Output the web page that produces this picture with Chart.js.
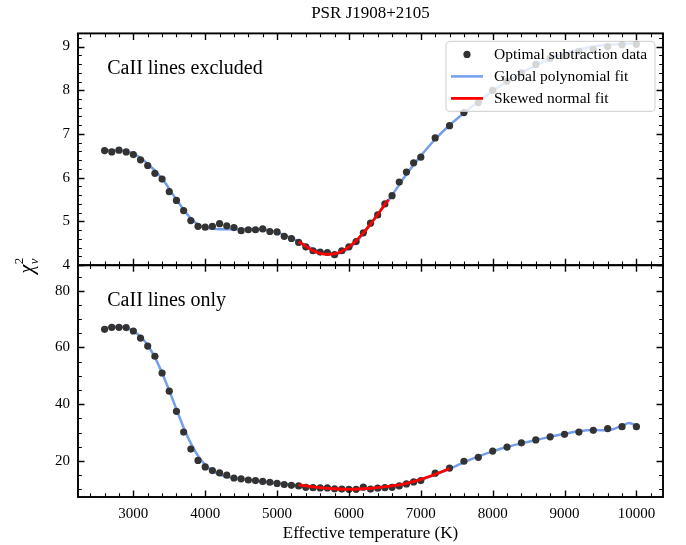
<!DOCTYPE html>
<html>
<head>
<meta charset="utf-8">
<title>PSR J1908+2105</title>
<script src="https://cdn.jsdelivr.net/npm/chart.js@4.4.1/dist/chart.umd.min.js"></script>
<style>
    html, body { margin: 0; padding: 0; background: #fff; }
    #chi2Chart { display: block; }
</style>
</head>
<body>
<canvas id="chi2Chart" width="686" height="545"></canvas>
<script>
// Effective temperatures of the template grid (K)
const temps = [
    2600, 2700, 2800, 2900, 3000, 3100, 3200, 3300, 3400, 3500,
    3600, 3700, 3800, 3900, 4000, 4100, 4200, 4300, 4400, 4500,
    4600, 4700, 4800, 4900, 5000, 5100, 5200, 5300, 5400, 5500,
    5600, 5700, 5800, 5900, 6000, 6100, 6200, 6300, 6400, 6500,
    6600, 6700, 6800, 6900, 7000, 7200, 7400, 7600, 7800, 8000,
    8200, 8400, 8600, 8800, 9000, 9200, 9400, 9600, 9800, 10000
];

// Reduced chi-square, CaII lines excluded
const chiExcluded = [
    6.62, 6.59, 6.63, 6.59, 6.53, 6.41, 6.28, 6.10, 5.97, 5.68,
    5.48, 5.25, 5.02, 4.89, 4.87, 4.89, 4.95, 4.90, 4.86, 4.79,
    4.81, 4.81, 4.83, 4.77, 4.76, 4.66, 4.61, 4.52, 4.42, 4.33,
    4.30, 4.29, 4.24, 4.33, 4.42, 4.54, 4.74, 4.96, 5.15, 5.40,
    5.59, 5.90, 6.13, 6.34, 6.47, 6.91, 7.19, 7.49, 7.72, 8.00,
    8.21, 8.40, 8.59, 8.73, 8.79, 8.89, 8.93, 9.00, 9.04, 9.05
];

// Reduced chi-square, CaII lines only
const chiOnly = [
    66.4, 67.1, 67.1, 67.0, 65.8, 63.3, 60.5, 56.9, 51.0, 44.6,
    37.5, 30.2, 24.2, 20.2, 17.9, 16.6, 15.8, 15.0, 14.0, 13.7,
    13.3, 13.1, 12.8, 12.5, 12.1, 11.7, 11.4, 11.2, 10.7, 10.6,
    10.5, 10.5, 10.2, 10.1, 10.0, 10.0, 10.8, 10.1, 10.4, 10.6,
    10.7, 11.2, 11.9, 12.6, 13.1, 15.7, 17.5, 19.9, 21.3, 23.5,
    24.9, 26.4, 27.4, 28.5, 29.4, 30.2, 30.8, 31.4, 32.1, 32.1
];

// Global polynomial fit, sampled
const polyTempsTop = [2600, 2800, 3000, 3200, 3400, 3600, 3800, 3900, 4000, 4200, 4400, 4600, 4800, 5000, 5200, 5400, 5600, 5800, 6000, 6200, 6400, 6600, 6800, 7000, 7200, 7400, 7600, 7800, 8000, 8200, 8400, 8600, 8800, 9000, 9200, 9400, 9600, 9800, 10000];
const polyTop = [6.63, 6.62, 6.55, 6.32, 5.98, 5.50, 5.07, 4.93, 4.86, 4.82, 4.82, 4.83, 4.82, 4.75, 4.62, 4.45, 4.31, 4.26, 4.38, 4.72, 5.16, 5.60, 6.08, 6.50, 6.88, 7.20, 7.48, 7.74, 7.98, 8.20, 8.40, 8.57, 8.72, 8.84, 8.93, 9.00, 9.04, 9.06, 9.07];

const polyTempsBot = [2600, 2800, 3000, 3100, 3200, 3300, 3400, 3500, 3600, 3700, 3800, 3900, 4000, 4100, 4200, 4400, 4600, 4800, 5000, 5200, 5400, 5600, 5800, 6000, 6200, 6400, 6600, 6800, 7000, 7200, 7400, 7600, 7800, 8000, 8200, 8400, 8600, 8800, 9000, 9200, 9400, 9600, 9800, 9900, 10000];
const polyBot = [66.8, 67.3, 65.8, 63.8, 60.8, 56.5, 51.0, 44.8, 38.2, 31.8, 26.2, 21.8, 18.6, 16.5, 15.2, 13.9, 13.3, 12.8, 12.2, 11.5, 10.9, 10.4, 10.1, 10.0, 10.1, 10.5, 11.1, 12.0, 13.3, 15.1, 17.2, 19.5, 21.6, 23.4, 24.9, 26.2, 27.4, 28.5, 29.6, 30.5, 30.9, 30.8, 32.4, 33.4, 32.4];

// Skewed normal fit around the minimum
const skewTempsTop = [5300, 5400, 5500, 5600, 5700, 5800, 5900, 6000, 6100, 6200, 6300, 6400, 6500, 6550];
const skewTop = [4.54, 4.43, 4.33, 4.27, 4.25, 4.26, 4.32, 4.42, 4.56, 4.74, 4.94, 5.16, 5.39, 5.50];

const skewTempsBot = [5300, 5400, 5600, 5800, 6000, 6200, 6400, 6600, 6800, 7000, 7200, 7400];
const skewBot = [11.6, 11.2, 10.6, 10.2, 10.0, 10.2, 10.6, 11.2, 12.1, 13.5, 15.3, 17.3];

// Tick labels
const xTicks = [3000, 4000, 5000, 6000, 7000, 8000, 9000, 10000];
const topTicks = [4, 5, 6, 7, 8, 9];
const botTicks = [20, 40, 60, 80];

const serif = "'Liberation Serif', 'Times New Roman', serif";
const dotColor = '#333333';
const polyColor = '#739fec';
const skewColor = '#ff0000';

function pairs(xs, ys) {
    return xs.map((x, i) => ({ x: x, y: ys[i] }));
}

function minorValues(from, to, step, majors) {
    const out = [];
    for (let v = from; v <= to + 1e-9; v += step) {
        const r = Math.round(v * 1000) / 1000;
        if (!majors.includes(r)) out.push(r);
    }
    return out;
}

const xMinor = minorValues(2400, 10200, 200, xTicks);
const topMinor = minorValues(4.2, 9.2, 0.2, topTicks);
const botMinor = minorValues(10, 85, 5, botTicks);

function dataSets(axis, ys, polyX, polyY, skewX, skewY) {
    return [
        {
            label: 'Optimal subtraction data',
            yAxisID: axis,
            data: pairs(temps, ys),
            pointRadius: 3.6,
            pointBackgroundColor: dotColor,
            pointBorderWidth: 0,
            showLine: false,
            order: 1
        },
        {
            label: 'Global polynomial fit',
            yAxisID: axis,
            data: pairs(polyX, polyY),
            showLine: true,
            pointRadius: 0,
            borderColor: polyColor,
            borderWidth: 2.5,
            cubicInterpolationMode: 'monotone',
            order: 2
        },
        {
            label: 'Skewed normal fit',
            yAxisID: axis,
            data: pairs(skewX, skewY),
            showLine: true,
            pointRadius: 0,
            borderColor: skewColor,
            borderWidth: 2.8,
            cubicInterpolationMode: 'monotone',
            order: 0
        }
    ];
}

// frame and inward ticks on all four sides of each panel
const panelFrames = {
    id: 'panelFrames',
    afterDraw(chart) {
        const ctx = chart.ctx;
        const x = chart.scales.x;
        const panels = [
            { y: chart.scales.yTop, major: topTicks, minor: topMinor },
            { y: chart.scales.yBot, major: botTicks, minor: botMinor }
        ];
        ctx.save();
        ctx.strokeStyle = '#000';
        panels.forEach(p => {
            const top = p.y.top, bottom = p.y.bottom, left = x.left, right = x.right;
            [[xTicks, 6.5, 1.4], [xMinor, 3.8, 1.1]].forEach(([vals, len, lw]) => {
                ctx.lineWidth = lw;
                ctx.beginPath();
                vals.forEach(v => {
                    const px = Math.round(x.getPixelForValue(v)) + 0.5;
                    ctx.moveTo(px, bottom); ctx.lineTo(px, bottom - len);
                    ctx.moveTo(px, top); ctx.lineTo(px, top + len);
                });
                ctx.stroke();
            });
            [[p.major, 6.5, 1.4], [p.minor, 3.8, 1.1]].forEach(([vals, len, lw]) => {
                ctx.lineWidth = lw;
                ctx.beginPath();
                vals.forEach(v => {
                    const py = Math.round(p.y.getPixelForValue(v)) + 0.5;
                    ctx.moveTo(left, py); ctx.lineTo(left + len, py);
                    ctx.moveTo(right, py); ctx.lineTo(right - len, py);
                });
                ctx.stroke();
            });
            ctx.lineWidth = 1.9;
            ctx.strokeRect(left, top, right - left, bottom - top);
        });

        // panel captions
        ctx.fillStyle = '#000';
        ctx.font = '20px ' + serif;
        ctx.textAlign = 'left';
        ctx.textBaseline = 'alphabetic';
        const cx = x.left + 0.05 * (x.right - x.left);
        ctx.fillText('CaII lines excluded', cx, chart.scales.yTop.top + 41);
        ctx.fillText('CaII lines only', cx, chart.scales.yBot.top + 41);

        // shared y label: reduced chi-square
        ctx.translate(28, (chart.scales.yTop.top + chart.scales.yBot.bottom) / 2);
        ctx.rotate(-Math.PI / 2);
        ctx.font = 'italic 20px ' + serif;
        const chiW = ctx.measureText('χ').width;
        const total = chiW + 8;
        ctx.fillText('χ', -total / 2, 5);
        ctx.font = 'italic 13px ' + serif;
        ctx.fillText('ν', -total / 2 + chiW + 0.5, 10);
        ctx.font = '13px ' + serif;
        ctx.fillText('2', -total / 2 + chiW + 0.5, -5);
        ctx.restore();
    }
};

// legend box inside the upper panel, drawn over the data
const insetLegend = {
    id: 'insetLegend',
    afterDatasetsDraw(chart) {
        const ctx = chart.ctx;
        const area = chart.chartArea;
        const w = 209, h = 70;
        const x0 = area.right - 8 - w, y0 = area.top + 8;
        ctx.save();
        ctx.beginPath();
        ctx.roundRect(x0, y0, w, h, 4);
        ctx.fillStyle = 'rgba(255,255,255,0.8)';
        ctx.fill();
        ctx.strokeStyle = 'rgba(204,204,204,0.8)';
        ctx.lineWidth = 1.2;
        ctx.stroke();
        const items = chart.data.datasets.filter(d => d.yAxisID === 'yTop');
        ctx.font = '15.5px ' + serif;
        ctx.textBaseline = 'middle';
        ctx.textAlign = 'left';
        items.forEach((ds, i) => {
            const cy = y0 + 13 + i * 22;
            if (ds.showLine) {
                ctx.strokeStyle = ds.borderColor;
                ctx.lineWidth = ds.borderWidth;
                ctx.beginPath();
                ctx.moveTo(x0 + 5, cy);
                ctx.lineTo(x0 + 37, cy);
                ctx.stroke();
            } else {
                ctx.fillStyle = ds.pointBackgroundColor;
                ctx.beginPath();
                ctx.arc(x0 + 21, cy, ds.pointRadius, 0, Math.PI * 2);
                ctx.fill();
            }
            ctx.fillStyle = '#000';
            ctx.fillText(ds.label, x0 + 48, cy + 1);
        });
        ctx.restore();
    }
};

const tickFont = { family: serif, size: 15 };

function yScale(min, max, ticks) {
    return {
        type: 'linear',
        position: 'left',
        stack: 'panels',
        stackWeight: 1,
        min: min,
        max: max,
        grid: { display: false, drawTicks: false },
        border: { display: false },
        afterBuildTicks: s => { s.ticks = ticks.map(v => ({ value: v })); },
        afterFit: s => { s.width = 78; },
        ticks: { font: tickFont, color: '#000', padding: 8, autoSkip: false, callback: v => String(v) }
    };
}

new Chart(document.getElementById('chi2Chart'), {
    type: 'scatter',
    data: {
        datasets: [
            ...dataSets('yTop', chiExcluded, polyTempsTop, polyTop, skewTempsTop, skewTop),
            ...dataSets('yBot', chiOnly, polyTempsBot, polyBot, skewTempsBot, skewBot)
        ]
    },
    options: {
        responsive: false,
        animation: false,
        events: [],
        layout: { padding: { left: 0, right: 23, top: 0, bottom: 0 } },
        plugins: {
            legend: { display: false },
            tooltip: { enabled: false },
            title: {
                display: true,
                text: 'PSR J1908+2105',
                fullSize: false,
                color: '#000',
                font: { family: serif, size: 17, weight: 'normal' },
                padding: { top: 3, bottom: 10 }
            }
        },
        scales: {
            x: {
                type: 'linear',
                position: 'bottom',
                min: 2230,
                max: 10370,
                grid: { display: false, drawTicks: false },
                border: { display: false },
                afterBuildTicks: s => { s.ticks = xTicks.map(v => ({ value: v })); },
                afterFit: s => { s.height = 48; },
                ticks: { font: tickFont, color: '#000', padding: 8, autoSkip: false, maxRotation: 0, callback: v => String(v) },
                title: {
                    display: true,
                    text: 'Effective temperature (K)',
                    color: '#000',
                    font: { family: serif, size: 17 },
                    padding: { top: 0, bottom: 1 }
                }
            },
            yBot: yScale(7.3, 89, botTicks),
            yTop: yScale(4.0, 9.3, topTicks)
        }
    },
    plugins: [insetLegend, panelFrames]
});
</script>
</body>
</html>
